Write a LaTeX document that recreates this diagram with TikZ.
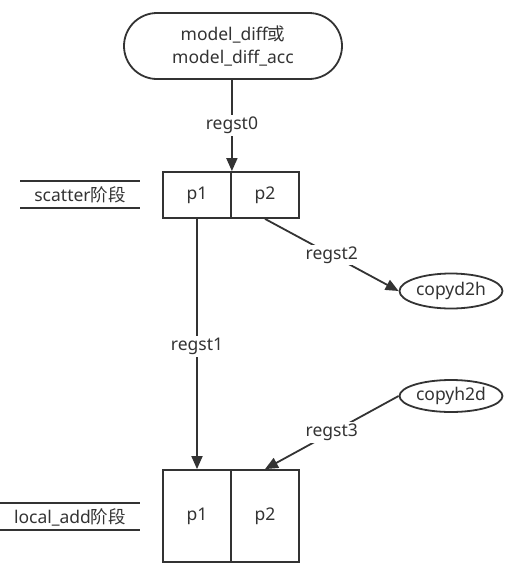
\documentclass[tikz,border=0pt]{standalone}
\usepackage{fontspec}
\setmainfont{Noto Sans}
\newfontfamily\cjk{Noto Sans CJK SC}
\newcommand{\zh}[1]{{\cjk #1}}
\usetikzlibrary{arrows.meta,shapes.geometric,shapes.misc}
\definecolor{ink}{HTML}{333333}
\tikzset{
  every node/.style={font=\fontsize{17.5}{23}\selectfont, text=ink},
  line/.style={draw=ink, line width=1.8pt},
  flow/.style={line, -{Triangle[length=13pt,width=11pt]}},
  cell/.style={line, fill=white, minimum width=68pt, inner sep=0pt},
  oval/.style={ellipse, line, fill=white, minimum width=103pt, minimum height=35pt, inner sep=0pt},
  term/.style={rounded rectangle, line, fill=white, minimum width=218pt, minimum height=66pt, align=center, inner sep=0pt},
  lbl/.style={fill=white, inner sep=2pt},
  stage/.style={inner sep=0pt},
}
\begin{document}
\begin{tikzpicture}[x=1pt,y=-1pt]
\useasboundingbox (0,0) rectangle (518,579);
% top terminal
\node[term] (src) at (233,46) {model\_diff\zh{或}\\model\_diff\_acc};
% scatter stage cells
\node[cell, minimum height=46pt] (s1) at (197,195) {p1};
\node[cell, minimum height=46pt] (s2) at (265,195) {p2};
% local_add stage cells
\node[cell, minimum height=92pt] (l1) at (197,516) {p1};
\node[cell, minimum height=92pt] (l2) at (265,516) {p2};
% copy nodes
\node[oval] (d2h) at (451,291) {copyd2h};
\node[oval, minimum height=32pt] (h2d) at (451,396) {copyh2d};
% stage captions
\node[stage] (scat) at (80,195) {scatter\zh{阶段}};
\draw[line] (20,181) -- (140,181) (20,208) -- (140,208);
\node[stage] (loc) at (70,517) {local\_add\zh{阶段}};
\draw[line] (0,503) -- (140,503) (0,530) -- (140,530);
% connectors
\draw[flow] (src.south -| s1.north east) -- node[lbl] {regst0} (s1.north east);
\draw[flow] (s1.south) -- node[lbl, pos=0.51] {regst1} (l1.north);
\draw[flow] (s2.south) -- node[lbl, pos=0.5] {regst2} (d2h.west);
\draw[flow] (h2d.west) -- node[lbl, pos=0.5] {regst3} (l2.north);
\end{tikzpicture}
\end{document}
